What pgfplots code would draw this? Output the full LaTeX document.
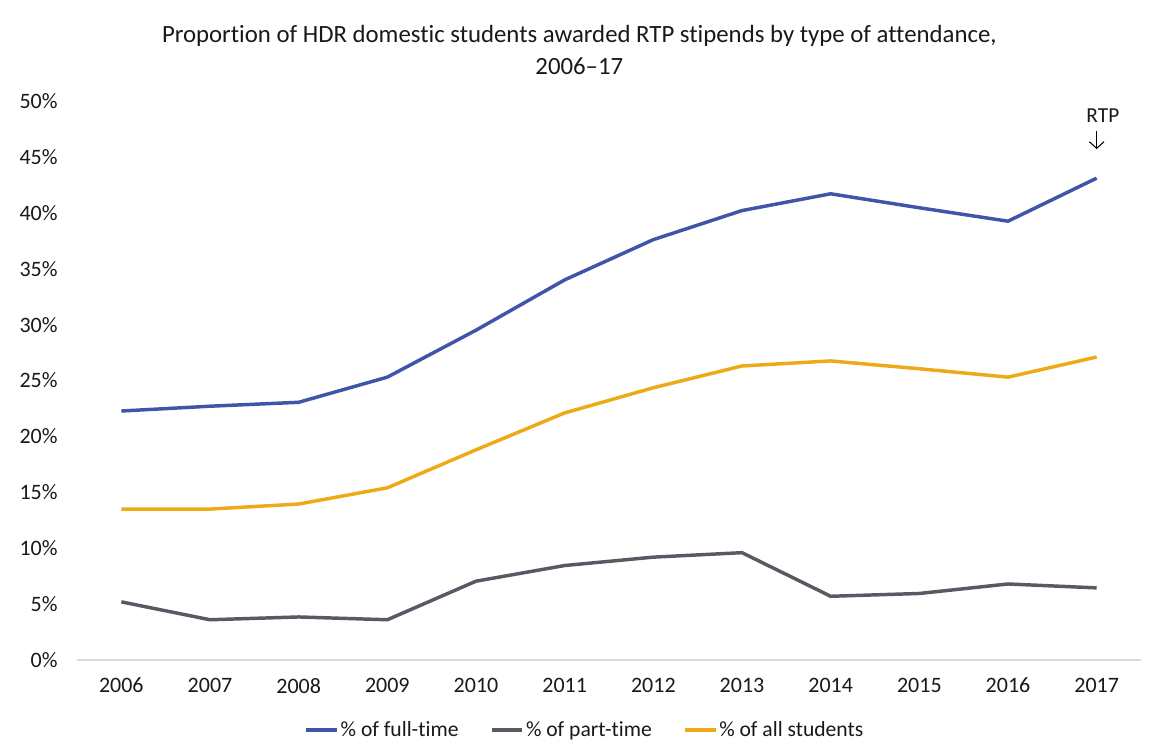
\documentclass[border=0pt]{standalone}
\usepackage{pgfplots}
\pgfplotsset{compat=1.18}
\usepackage{fontspec}
\setmainfont{Carlito}[Ligatures=NoCommon]
\usetikzlibrary{arrows.meta}
\definecolor{cblue}{RGB}{64,84,168}
\definecolor{cgray}{RGB}{86,91,99}
\definecolor{cgold}{RGB}{237,170,22}
\definecolor{caxis}{RGB}{217,217,217}
\begin{document}
\begin{tikzpicture}
\useasboundingbox (0,0) rectangle (864pt,564.75pt);
\node[font=\fontsize{18.6}{24}\selectfont, align=center, anchor=center, inner sep=0pt, text=black!90] at (434.5pt, 527.6pt)
  {Proportion of HDR domestic students awarded RTP stipends by type of attendance,\\2006–17};
\begin{axis}[
  at={(57.75pt,69.75pt)}, anchor=south west,
  scale only axis, width=798pt, height=419.25pt,
  xmin=-0.5, xmax=11.5, ymin=0, ymax=50,
  xtick={0,...,11},
  xticklabels={2006,2007,2008,2009,2010,2011,2012,2013,2014,2015,2016,2017},
  ytick={0,5,...,50},
  yticklabels={0\%,5\%,10\%,15\%,20\%,25\%,30\%,35\%,40\%,45\%,50\%},
  axis x line*=bottom, axis y line*=left,
  x axis line style={draw=caxis, line width=1pt, -},
  y axis line style={draw=none},
  major tick length=0pt,
  tick label style={font=\fontsize{16.5}{19}\selectfont, text=black!90},
  yticklabel style={xshift=-11pt},
  xticklabel style={yshift=-10pt},
  clip=false,
  legend style={at={(axis description cs:0.4774,-0.1252)}, anchor=center, draw=none,
    font=\fontsize{16.2}{19}\selectfont, text=black!90, legend columns=3,
    /tikz/every even column/.append style={column sep=22pt},
    /tikz/every odd column/.append style={column sep=0pt},
    nodes={inner sep=1.5pt}},
  legend cell align=left,
  legend image code/.code={\draw[#1] (0pt,0pt) -- (23pt,0pt);},
]
\addplot[cblue, line width=2.6pt, line join=round] coordinates {
(0,22.27) (1,22.7) (2,23.05) (3,25.3) (4,29.5) (5,34.0) (6,37.6) (7,40.2) (8,41.7) (9,40.45) (10,39.25) (11,43.1)};
\addlegendentry{\% of full-time}
\addplot[cgray, line width=2.6pt, line join=round] coordinates {
(0,5.2) (1,3.6) (2,3.85) (3,3.6) (4,7.05) (5,8.45) (6,9.2) (7,9.6) (8,5.7) (9,5.95) (10,6.8) (11,6.45)};
\addlegendentry{\% of part-time}
\addplot[cgold, line width=2.6pt, line join=round] coordinates {
(0,13.5) (1,13.5) (2,13.95) (3,15.4) (4,18.8) (5,22.1) (6,24.35) (7,26.3) (8,26.75) (9,26.05) (10,25.3) (11,27.1)};
\addlegendentry{\% of all students}
\node[font=\fontsize{16}{19}\selectfont, inner sep=0pt, text=black!90] at (axis cs:11.07,48.66) {RTP};
\draw[line width=0.8pt, -{Straight Barb[length=5pt,width=11pt]}] (axis cs:11,47.3) -- (axis cs:11,45.7);
\end{axis}
\end{tikzpicture}
\end{document}
